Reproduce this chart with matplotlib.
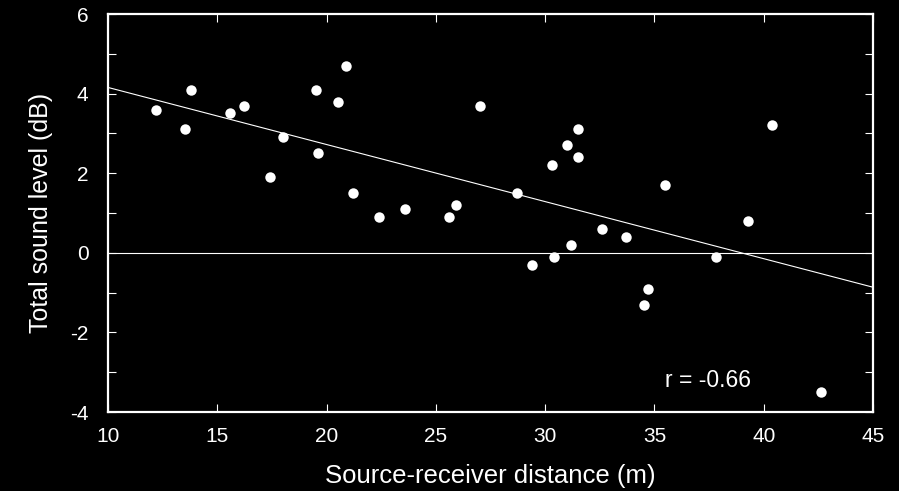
import numpy as np
import matplotlib
matplotlib.use("Agg")
import matplotlib.pyplot as plt
from matplotlib.ticker import MultipleLocator

plt.rcParams['font.family'] = ['Liberation Sans', 'DejaVu Sans']
plt.rcParams['axes.unicode_minus'] = False

# source-receiver distance (m)
distance = [12.2, 13.5, 13.8, 15.6, 16.2, 17.4, 18.0, 19.5, 19.6, 20.5,
            20.9, 21.2, 22.4, 23.6, 25.6, 25.9, 27.0, 28.7, 30.3, 31.0,
            31.5, 31.5, 35.5, 40.4, 39.3, 32.6, 33.7, 31.2, 29.4, 30.4,
            37.8, 34.7, 34.5, 42.6]
# total sound level (dB)
level = [3.6, 3.1, 4.1, 3.5, 3.7, 1.9, 2.9, 4.1, 2.5, 3.8,
         4.7, 1.5, 0.9, 1.1, 0.9, 1.2, 3.7, 1.5, 2.2, 2.7,
         3.1, 2.4, 1.7, 3.2, 0.8, 0.6, 0.4, 0.2, -0.3, -0.1,
         -0.1, -0.9, -1.3, -3.5]

x_ticks = [10, 15, 20, 25, 30, 35, 40, 45]
y_ticks = [-4, -2, 0, 2, 4, 6]

# least-squares fit line
slope, intercept = np.polyfit(distance, level, 1)

fig = plt.figure(figsize=(8.99, 4.91), dpi=100, facecolor='black')
ax = fig.add_axes([108/899, 1 - 412/491, (873-108)/899, (412-14)/491])
ax.set_facecolor('black')

ax.axhline(0, color='white', lw=0.8)
xs = np.array([10, 45])
ax.plot(xs, intercept + slope * xs, color='white', lw=0.8)
ax.plot(distance, level, 'o', color='white', ms=7.5, mec='none')

ax.set_xlim(10, 45)
ax.set_ylim(-4, 6)
ax.set_xticks(x_ticks)
ax.set_yticks(y_ticks)
ax.yaxis.set_minor_locator(MultipleLocator(1))

for s in ax.spines.values():
    s.set_color('white')
    s.set_linewidth(1.6)

ax.tick_params(axis='both', which='both', direction='in', colors='white',
               top=True, right=True, labelsize=15)
ax.tick_params(axis='x', which='major', length=6, width=0.8, pad=11)
ax.tick_params(axis='y', which='both', length=6, width=0.8, pad=14)

ax.set_xlabel('Source-receiver distance (m)', color='white', fontsize=18.5, labelpad=13)
ax.set_ylabel('Total sound level (dB)', color='white', fontsize=18, labelpad=12)

ax.text(37.45, -3.2, 'r = -0.66', color='white', fontsize=16.5, ha='center', va='center')

fig.savefig('out.png', dpi=100, facecolor='black')
